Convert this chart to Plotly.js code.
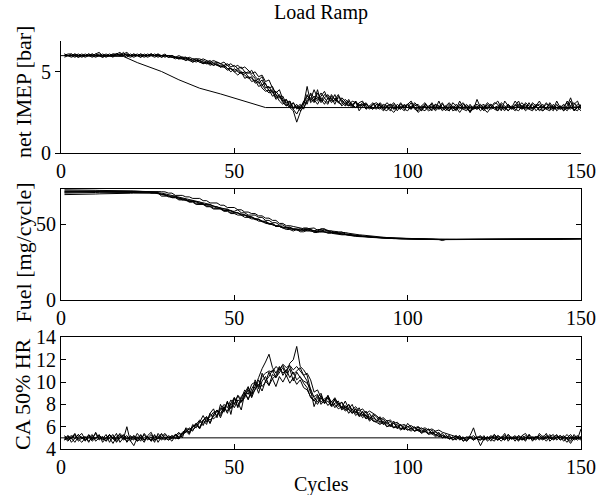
<!DOCTYPE html>
<html>
<head>
<meta charset="utf-8">
<script src="https://cdn.plot.ly/plotly-3.0.1.min.js"></script>
<style>html,body{margin:0;padding:0;background:#fff;}#chart{width:608px;height:495px;}</style>
</head>
<body>
<div id="chart"></div>
<script>
// cycle index 1..150
const cycles = Array.from({length: 150}, (_, i) => i + 1);
const xTicks = [0, 50, 100, 150];

// ---------- net IMEP [bar] ----------
const imepA = [6.0,6.1,6.1,6.0,5.9,6.0,6.1,6.0,6.0,6.1, 6.2,6.0,5.9,6.0,6.0,6.1,6.0,6.1,6.0,5.9, 6.0,6.0,6.1,6.0,5.9,6.0,6.0,6.1,5.9,6.0,
 5.9,6.0,5.9,5.8,5.9,5.9,5.8,5.7,5.8,5.8, 5.7,5.6,5.7,5.5,5.6,5.5,5.4,5.5,5.3,5.4,
 5.2,5.3,5.0,4.9,5.1,4.7,4.5,4.7,4.2,4.0, 4.1,3.6,3.4,3.5,3.0,2.8,3.1,2.7,2.9,3.0,
 3.5,3.3,3.9,3.4,3.2,3.6,3.5,3.1,3.3,3.2, 2.9,3.1,3.0,2.8,3.2,2.6,2.9,3.0,2.8,2.7,
 3.0,2.8,2.6,2.9,3.0,2.7,2.8,3.1,2.7,2.6, 2.9,2.8,2.5,2.7,3.0,2.8,2.9,2.6,2.8,3.1,
 2.7,2.6,2.9,2.8,2.5,2.8,3.0,2.7,2.8,2.9, 2.6,2.8,3.1,2.9,2.7,2.6,2.9,2.8,3.0,2.7,
 2.8,3.0,2.9,2.6,2.8,2.7,3.0,2.9,2.6,2.8, 2.7,2.9,2.6,2.8,3.0,2.7,3.2,2.6,2.8,2.9];
const imepB = [6.1,6.0,6.0,6.1,6.0,5.9,6.0,6.0,6.1,6.0, 6.0,6.1,6.0,6.0,5.9,6.1,6.2,6.0,6.1,6.0, 5.9,6.0,6.1,6.0,6.0,6.1,6.0,5.9,6.0,6.0,
 6.0,6.0,5.9,6.0,5.9,5.8,5.9,5.8,5.8,5.7, 5.8,5.7,5.6,5.7,5.6,5.5,5.6,5.4,5.5,5.3,
 5.4,5.2,5.3,5.1,4.9,5.0,4.7,4.8,4.4,4.5, 4.0,3.7,3.9,3.3,3.1,3.2,2.8,3.0,2.7,3.2,
 3.0,3.7,3.4,3.2,3.5,3.8,3.3,3.4,3.0,3.5, 3.3,3.0,2.9,3.2,3.1,2.9,3.0,2.7,2.9,3.1,
 2.8,2.7,3.0,2.9,2.7,2.5,2.8,3.0,2.9,2.8, 3.1,2.7,2.6,2.9,2.8,2.6,2.7,3.0,2.9,2.6,
 2.8,3.0,2.6,2.7,2.9,3.1,2.8,2.6,2.7,2.8, 3.0,2.7,2.5,2.8,3.1,3.0,2.7,2.8,2.6,2.9,
 2.7,2.6,2.9,3.0,2.7,3.1,2.9,2.7,2.6,2.8, 3.0,2.7,2.8,2.9,2.6,2.8,2.7,3.0,3.2,2.7];
const imepC = [6.0,6.0,5.9,6.0,6.1,6.0,6.0,6.1,6.0,5.9, 6.0,6.0,6.1,6.0,6.0,6.1,6.0,6.2,6.0,6.0, 6.1,6.0,6.0,5.9,6.0,6.1,6.0,6.0,6.0,5.9,
 6.0,5.9,5.9,5.9,5.8,5.8,5.7,5.8,5.7,5.6, 5.6,5.5,5.6,5.4,5.5,5.3,5.4,5.2,5.2,5.0,
 5.1,4.9,4.8,4.6,4.7,4.3,4.4,4.0,3.8,3.9, 3.5,3.6,3.2,3.0,3.3,2.8,2.6,1.9,2.5,3.0,
 4.1,3.1,3.3,3.0,3.4,3.2,3.0,3.6,3.3,3.1, 3.4,3.2,2.9,3.0,2.8,3.1,3.2,2.7,2.9,2.8,
 2.7,3.1,2.9,2.8,2.6,3.0,2.8,2.7,3.0,2.8, 2.7,3.0,2.8,2.6,2.9,2.7,2.8,3.0,2.7,2.8,
 2.9,2.7,2.8,2.6,3.0,2.7,2.6,2.9,2.8,2.7, 2.8,2.9,2.7,3.0,2.8,2.9,2.6,3.2,2.9,2.7,
 3.0,2.8,2.7,3.1,2.9,2.8,2.9,2.6,2.8,2.7, 2.6,3.0,2.8,2.7,2.9,3.1,2.8,2.7,2.6,3.0];
const imepD = [5.9,6.0,6.0,6.1,6.0,6.0,5.9,6.0,6.1,6.0, 6.0,5.9,6.0,6.1,6.0,6.0,6.1,6.0,5.9,6.1, 6.0,6.0,5.9,6.1,6.0,6.0,6.1,6.0,5.9,6.0,
 5.9,5.9,5.8,5.9,5.8,5.7,5.8,5.6,5.7,5.7, 5.5,5.6,5.4,5.5,5.4,5.3,5.3,5.1,5.2,5.0,
 4.8,5.0,4.6,4.7,4.4,4.5,4.1,4.2,3.9,3.7, 3.8,3.3,3.5,3.1,2.9,3.2,2.7,2.9,2.6,2.8,
 3.2,3.4,3.1,3.7,3.3,3.0,3.4,3.2,3.6,3.1, 3.0,3.3,3.1,2.9,2.8,3.0,2.9,3.1,2.8,3.0,
 3.1,2.9,2.7,2.8,3.0,2.9,2.6,2.9,2.8,3.0, 2.7,2.9,3.0,2.7,2.6,2.9,3.0,2.7,2.9,2.8,
 2.6,2.9,2.7,3.0,2.8,2.7,2.9,2.5,2.9,3.0, 2.8,2.6,2.9,2.7,2.8,2.6,3.0,2.7,2.9,2.8,
 2.6,2.9,3.1,2.8,2.7,2.6,2.9,3.0,2.8,3.1, 2.8,2.6,3.0,2.7,2.8,2.6,2.9,3.1,2.8,2.6];
const imepE = [6.1,6.0,6.0,5.9,6.0,6.1,6.0,6.0,5.9,6.0, 6.1,6.0,6.0,6.0,6.1,6.0,6.1,6.1,6.2,6.0, 6.0,6.1,6.0,6.0,6.1,6.0,5.9,6.0,6.0,6.1,
 5.9,6.0,5.9,5.8,5.8,5.9,5.7,5.6,5.7,5.6, 5.5,5.6,5.5,5.4,5.5,5.3,5.4,5.2,5.0,5.2,
 5.0,4.9,5.0,4.7,4.6,4.4,4.6,4.2,4.3,3.8, 3.9,3.4,3.6,3.2,2.9,3.1,2.7,2.4,2.8,3.1,
 3.6,3.2,3.5,3.3,3.7,3.4,3.1,3.5,3.3,3.6, 3.1,2.9,3.2,3.0,3.1,2.8,3.0,2.9,2.7,3.0,
 2.8,3.0,2.7,2.6,2.9,3.1,2.8,2.7,2.9,3.0, 3.2,2.8,2.7,2.9,3.1,2.8,2.6,2.9,2.7,3.0,
 2.8,2.6,3.1,2.9,2.7,3.0,2.8,2.5,2.8,2.7, 2.9,3.0,2.7,3.0,2.8,2.7,3.1,2.9,2.6,2.8,
 2.9,3.2,2.7,2.9,2.8,3.0,2.6,2.8,3.0,2.7, 3.1,2.8,2.7,2.9,2.7,3.2,2.9,2.6,2.9,2.8];
const imepF = [6.0,6.0,6.1,6.0,5.9,6.0,6.0,6.1,6.0,6.1, 6.0,5.9,6.0,6.0,6.1,6.1,6.0,6.0,6.1,6.0, 6.1,6.0,5.9,6.0,6.0,6.1,6.0,6.1,6.0,6.0,
 6.0,5.9,5.9,5.8,5.9,5.7,5.8,5.7,5.6,5.7, 5.6,5.5,5.5,5.6,5.4,5.4,5.3,5.4,5.2,5.1,
 5.2,5.0,4.9,5.0,4.8,4.6,4.3,4.5,4.0,4.1, 3.7,3.8,3.5,3.2,3.3,2.9,3.1,2.8,3.0,2.7,
 3.3,3.6,3.2,3.9,3.1,3.4,3.6,3.3,3.2,3.4, 3.2,3.0,3.3,2.9,3.2,2.9,3.1,3.0,2.8,2.7,
 3.0,3.0,2.8,3.1,2.9,2.7,3.0,2.8,2.6,3.0, 2.8,3.1,2.9,2.6,3.0,2.8,3.1,2.7,3.2,2.7,
 2.9,3.1,2.8,2.7,3.2,2.8,2.7,3.0,2.7,3.3, 2.8,2.7,3.0,2.8,3.0,3.2,2.8,2.6,3.0,2.8,
 3.2,2.9,2.8,2.7,3.1,2.7,2.9,3.2,2.8,3.0, 2.9,2.7,3.2,2.8,2.6,2.9,3.4,2.8,3.0,2.9];
// reference IMEP (breakpoints)
const imepRefX = [0, 18, 22, 29, 34, 40, 46, 52, 59, 150];
const imepRefY = [6.0, 5.95, 5.57, 5.02, 4.51, 3.99, 3.64, 3.27, 2.8, 2.8];

// ---------- Fuel [mg/cycle] ----------
const fuelA = [72.8,72.8,72.7,72.7,72.6,72.6,72.5,72.5,72.4,72.4, 72.3,72.3,72.2,72.2,72.1,72.1,72.0,72.0,71.9,71.9, 71.8,71.8,71.7,71.6,71.5,
 70.5,70.5,70.5,68.5,68.5, 68.5,67.5,67.5,66.0,66.0, 66.0,64.5,64.5,63.0,63.0, 63.0,61.5,61.5,60.0,60.0, 60.0,58.5,58.5,57.0,57.0,
 56.0,56.0,54.5,54.5,53.5, 53.5,52.0,52.0,50.5,50.0, 50.0,48.5,48.5,47.5,47.5, 48.0,46.5,46.5,47.0,46.0, 46.5,46.5,45.5,45.0,45.0,
 46.0,46.0,44.5,44.0,44.0, 43.5,43.5,43.0,42.8,42.5, 42.3,42.0,41.8,41.7,41.5, 41.3,41.2,41.0,41.0,40.9, 40.8,40.7,40.6,40.5,40.5,
 40.4,40.4,40.3,40.3,40.2,40.2,40.2,40.1,40.1,40.0, 40.0,40.0,39.9,39.9,39.9,39.9,40.0,40.0,39.9,39.9, 39.8,39.8,39.8,39.9,39.9,39.8,39.8,39.8,39.7,39.7,
 39.7,39.8,39.8,39.8,39.7,39.7,39.8,39.8,39.9,39.9, 40.0,40.0,40.1,40.1,40.2,40.2,40.3,40.3,40.4,40.4];
const fuelB = [71.5,71.5,71.6,71.6,71.6,71.7,71.7,71.7,71.8,71.8, 71.8,71.8,71.9,71.9,71.9,71.9,72.0,72.0,72.0,72.0, 71.9,71.9,71.8,71.8,71.7,71.7,71.6,71.5,71.4,71.3,
 70.5,70.5,69.0,69.0,69.0, 68.0,68.0,67.0,67.0,67.0, 65.5,65.5,64.0,64.0,64.0, 62.5,62.5,61.0,61.0,61.0, 59.5,59.5,58.0,58.0,57.0,
 57.0,55.5,55.5,54.0,54.0, 52.5,52.5,50.5,50.5,49.0, 49.0,48.5,48.0,48.0,47.0, 47.0,47.5,47.5,46.0,46.0, 46.5,45.5,45.5,45.0,45.0,
 44.5,44.5,44.0,43.5,43.5, 43.0,42.8,42.5,42.5,42.2, 41.8,41.6,41.4,41.2,41.0, 40.9,40.8,40.7,40.6,40.5,
 40.4,40.4,40.3,40.2,40.2,40.1,40.0,40.0,39.9,39.2, 39.9,39.9,39.9,39.9,40.0,40.0,40.0,40.0,40.1,40.1, 40.1,40.1,40.0,40.0,40.0,39.9,39.9,39.9,39.8,39.8,
 39.8,39.8,39.9,39.9,39.9,40.0,40.0,40.0,40.1,40.1, 40.1,40.2,40.2,40.2,40.3,40.3,40.3,40.4,40.4,40.4];
const fuelC = [70.5,70.5,70.6,70.6,70.7,70.7,70.8,70.8,70.9,70.9, 71.0,71.0,71.0,71.1,71.1,71.1,71.2,71.2,71.2,71.2, 71.2,71.1,71.1,71.0,71.0,70.9,70.9,70.8,
 69.5,69.5,68.5,68.5,68.5,67.0,67.0, 65.5,65.5,65.5,64.5,64.5,63.0,63.0,63.0, 61.5,61.5,60.0,60.0,60.0,58.5,58.5, 59.5,57.5,57.5,56.0,56.0,
 56.0,54.5,54.5,52.5,52.5, 51.0,51.0,49.5,49.5,48.0, 48.0,47.0,47.0,46.0,47.5, 47.5,46.5,45.5,45.5,47.0, 47.0,45.5,45.5,44.5,44.5,
 45.0,43.5,43.5,43.0,42.5, 42.5,42.0,41.8,41.6,41.4, 41.2,41.0,40.9,40.8,40.7, 40.6,40.5,40.4,40.4,40.3,
 40.3,40.2,40.2,40.1,40.1,40.0,40.0,40.0,39.9,39.9, 39.9,39.8,39.8,39.9,39.9,39.9,40.0,40.0,40.0,40.0, 40.1,40.1,40.1,40.0,40.0,40.0,40.0,39.9,39.9,39.9,
 39.9,39.9,40.0,40.0,40.0,40.0,40.1,40.1,40.1,40.1, 40.2,40.2,40.2,40.3,40.3,40.3,40.4,40.4,40.5,40.5];
const fuelD = [69.5,69.5,69.6,69.6,69.7,69.7,69.8,69.8,69.9,69.9, 70.0,70.0,70.1,70.1,70.2,70.2,70.3,70.3,70.4,70.4, 70.5,70.5,70.6,70.6,70.6,70.5,70.5,70.4,
 69.5,69.5,68.0,68.0,68.0,66.5,66.5, 66.5,65.0,65.0,63.5,63.5,63.5,62.0,62.0, 60.5,60.5,60.5,59.0,59.0,57.5,57.5, 57.5,56.0,56.0,54.5,54.5,
 53.0,53.0,51.5,51.5,50.0, 50.0,48.5,48.5,47.5,46.5, 46.5,45.5,46.5,45.0,45.0, 46.0,46.0,44.5,44.5,45.5, 45.0,44.0,44.0,43.5,43.5,
 43.0,43.0,42.5,42.5,42.0, 41.8,41.8,41.5,41.5,41.2, 41.0,40.9,40.8,40.7,40.6, 40.5,40.5,40.4,40.4,40.3,
 40.3,40.2,40.2,40.1,40.1,40.0,40.0,39.9,39.9,39.9, 39.9,40.0,40.0,40.0,40.1,40.1,40.1,40.0,40.0,40.0, 39.9,39.9,39.9,39.8,39.8,39.8,39.8,39.9,39.9,39.9,
 40.0,40.0,40.0,40.0,40.1,40.1,40.1,40.1,40.2,40.2, 40.2,40.2,40.3,40.3,40.3,40.4,40.4,40.4,40.5,40.5];
const fuelE = [72.0,72.0,72.1,72.1,72.1,72.2,72.2,72.2,72.2,72.2, 72.2,72.1,72.1,72.1,72.0,72.0,72.0,71.9,71.9,71.8, 71.8,71.7,71.7,71.6,71.5,71.3,71.0,
 70.0,70.0,69.0,69.0,67.5,67.5,67.5, 66.0,66.0,65.0,65.0,65.0,63.5,63.5, 62.0,62.0,62.0,60.5,60.5,59.0,59.0, 59.0,57.5,57.5,56.0,56.0,55.0,55.0,
 53.5,53.5,52.0,52.0,50.5, 50.5,49.0,49.0,48.0,48.0, 47.0,47.0,46.0,46.0,46.5, 46.5,45.5,45.5,46.5,46.5, 45.0,45.0,44.5,44.5,44.0,
 43.5,43.5,43.0,42.8,42.5, 42.3,42.0,41.8,41.6,41.4, 41.2,41.0,40.9,40.8,40.7, 40.6,40.5,40.4,40.3,40.3,
 40.2,40.1,40.1,40.0,40.0,39.9,39.9,39.8,39.8,39.8, 39.8,39.8,39.9,39.9,40.0,40.0,40.1,40.1,40.1,40.0, 40.0,40.0,39.9,39.9,39.9,39.8,39.8,39.8,39.8,39.9,
 39.9,39.9,40.0,40.0,40.0,40.1,40.1,40.1,40.2,40.2, 40.2,40.2,40.3,40.3,40.3,40.3,40.4,40.4,40.4,40.4];
const fuelF = [71.0,71.0,71.1,71.1,71.2,71.2,71.3,71.3,71.4,71.4, 71.5,71.5,71.5,71.6,71.6,71.6,71.6,71.5,71.5,71.5, 71.4,71.4,71.3,71.3,71.2,71.1,71.0,70.8,70.5,70.0,
 69.5,69.0,68.5,68.0,67.5, 67.0,66.5,66.0,65.5,65.0, 64.0,63.5,63.0,62.0,61.5, 61.0,60.0,59.5,59.0,58.0, 57.5,57.0,56.0,55.5,54.5,
 54.0,53.0,52.0,51.5,50.5, 49.5,49.0,48.5,48.0,47.5, 47.0,46.5,46.5,46.0,46.0, 45.5,45.5,45.5,45.0,45.0, 45.0,44.5,44.5,44.0,44.0,
 43.5,43.0,42.8,42.5,42.2, 42.0,41.8,41.6,41.4,41.2, 41.0,40.9,40.8,40.7,40.6, 40.5,40.5,40.4,40.4,40.3,
 40.3,40.2,40.2,40.2,40.1,40.1,40.1,40.0,40.0,40.0, 40.0,40.0,40.0,40.0,40.0,40.0,40.0,40.0,40.0,40.0, 40.0,39.9,39.9,39.9,39.9,39.9,39.9,39.9,39.9,39.9,
 39.9,39.9,39.9,39.9,39.9,39.9,40.0,40.0,40.0,40.0, 40.0,40.0,40.1,40.1,40.1,40.2,40.2,40.2,40.3,40.3];

// ---------- CA 50% HR ----------
const caA = [5.0,4.7,5.1,5.3,4.9,4.6,5.0,5.2,4.8,5.5, 4.9,5.1,4.7,5.0,4.5,5.1,5.3,4.8,5.0,4.9, 5.2,4.7,4.9,5.3,4.8,5.1,4.6,5.4,5.0,4.8, 5.1,4.9,5.3,5.0,5.2,
 5.6,5.3,6.0,6.2,5.8, 6.5,6.9,6.3,7.1,7.5, 6.8,7.6,8.2,7.7,8.0, 8.8,8.2,8.6,9.5,8.9, 9.3,10.2,9.6,10.0,10.9, 10.3,10.6,11.3,10.8,11.1, 11.4,10.7,11.0,11.3,10.6,
 10.1,9.0,8.7,8.9,8.2,8.5,8.7,7.9,8.1,8.3, 7.6,7.9,7.5,7.2,7.6,7.0,7.3,6.9,6.6,7.0, 6.5,6.7,6.2,6.4,6.1,6.3,5.9,6.2,5.8,6.0,
 5.8,6.0,5.6,5.7,5.5,5.8,5.3,5.5,5.4,5.2, 5.1,4.9,5.0,5.2,4.8,5.0,4.7,5.1,4.9,5.0, 5.2,4.8,5.1,4.9,4.7,5.2,5.0,4.8,5.3,4.9,
 5.0,4.7,5.2,5.4,4.9,5.0,5.1,4.8,5.2,4.9, 5.3,4.8,5.0,5.2,4.9,4.6,5.1,5.0,4.8,5.1];
const caB = [4.8,5.2,4.9,5.4,4.7,5.0,5.1,4.6,5.2,4.9, 5.3,4.6,5.0,5.2,4.9,4.7,5.0,5.3,4.6,5.0, 4.8,5.4,5.0,4.8,5.1,4.7,5.2,4.9,5.3,5.0, 4.8,5.2,5.0,4.9,5.4,
 5.5,5.8,5.6,6.3,5.9, 6.6,6.2,7.2,6.7,7.0, 7.7,7.3,8.2,7.6,8.6, 7.8,8.3,9.0,8.5,9.1, 9.6,10.4,11.2,11.8,12.5, 11.3,10.8,11.4,10.6,11.1, 10.4,10.9,10.2,10.5,9.9,
 9.5,8.6,8.3,8.8,8.0,8.4,7.9,8.3,7.7,8.1, 7.5,7.8,7.2,7.6,7.0,7.3,6.8,7.1,6.5,6.8, 6.6,6.3,6.5,6.0,6.2,5.9,6.1,5.8,5.9,5.7,
 5.9,5.6,5.8,5.5,5.6,5.4,5.5,5.3,5.1,5.2, 5.0,5.2,4.8,5.0,4.9,5.1,4.7,5.0,5.2,4.9, 4.8,5.0,4.9,5.2,5.0,4.8,5.1,4.9,5.3,5.0,
 4.9,5.2,4.8,5.0,5.1,4.8,5.0,5.2,4.9,5.1, 4.9,5.1,5.2,4.8,5.0,5.3,4.9,5.1,5.0,4.8];
const caC = [5.2,4.9,5.0,4.6,5.1,5.4,4.8,5.0,5.3,4.7, 5.0,4.9,5.3,4.6,5.1,4.9,5.4,5.0,4.7,5.2, 4.9,5.1,4.7,5.4,5.0,4.8,5.3,4.6,5.1,5.4, 5.0,5.2,4.9,5.4,5.3,
 5.8,5.5,6.0,6.3,5.9, 6.6,6.9,6.3,7.1,7.5, 7.0,7.8,7.2,8.1,8.6, 7.7,8.7,9.1,8.4,9.4, 9.9,9.0,10.1,10.5,9.7, 10.7,10.4,11.1,11.5,10.8, 11.7,12.0,13.2,11.4,11.1,
 10.6,9.3,7.8,8.6,9.0,8.1,8.8,7.9,8.4,7.8, 8.2,7.5,8.0,7.3,7.6,7.0,7.4,6.7,7.2,6.6, 6.4,6.9,6.2,6.6,6.0,6.5,5.8,6.2,5.7,6.3,
 5.9,5.6,6.0,5.5,5.8,5.4,5.7,5.2,5.5,5.0, 5.3,4.9,5.1,4.8,5.2,4.7,5.0,5.1,4.8,5.0, 4.3,4.9,5.1,4.7,5.3,5.0,4.7,5.1,4.9,5.0,
 5.2,4.8,5.0,4.7,5.3,5.0,4.8,5.4,5.0,4.7, 5.1,5.3,4.8,5.1,4.7,5.0,5.3,4.9,5.1,5.0];
const caD = [4.9,5.2,4.6,5.0,5.3,4.9,5.1,4.7,5.0,5.4, 4.8,5.1,4.9,5.0,5.3,4.6,5.0,5.2,4.9,5.1, 5.0,4.7,5.3,4.8,5.1,4.7,5.0,5.2,4.8,5.1, 4.8,5.0,5.3,5.1,5.4,
 5.5,5.9,5.7,6.0,6.5, 6.1,6.8,6.6,6.9,7.4, 7.2,7.7,7.4,8.1,7.7, 8.4,8.2,8.8,9.3,8.6, 9.4,9.8,9.2,10.1,9.7, 10.3,9.6,10.5,10.0,10.6, 9.9,10.4,9.8,10.2,9.5,
 9.3,8.7,8.4,8.0,8.6,8.1,8.3,7.8,8.0,7.6, 7.8,7.4,7.6,7.2,7.4,6.9,7.1,6.7,6.9,6.5, 6.4,6.2,6.4,6.0,6.1,5.9,6.0,5.7,5.9,5.7,
 5.8,5.6,5.7,5.4,5.6,5.3,5.4,5.1,5.3,5.0, 5.1,4.9,5.0,5.2,4.9,5.0,4.8,5.1,4.9,5.1, 5.0,4.8,5.0,5.1,4.9,5.2,5.0,4.8,5.1,4.9,
 5.1,5.0,4.8,5.2,5.0,4.9,5.1,5.0,4.8,5.2, 5.0,4.9,5.1,5.0,5.2,4.9,4.5,5.0,5.2,4.9];
const caE = [5.1,4.8,5.0,5.2,4.9,5.1,4.7,5.3,4.9,5.0, 5.2,4.8,5.0,5.3,4.9,5.4,4.6,5.0,5.2,4.8, 4.3,5.0,5.2,4.8,5.0,5.3,4.8,5.0,5.4,4.9, 5.2,5.0,5.3,4.9,5.5,
 5.7,5.4,6.2,5.9,6.4, 7.0,6.4,7.2,7.6,6.8, 8.0,7.4,8.3,7.1,8.6, 8.2,7.5,9.0,9.6,8.7, 10.2,9.4,10.8,10.1,10.5, 11.1,10.4,10.9,11.3,10.5, 11.2,10.1,10.9,10.4,10.1,
 9.9,9.4,8.6,8.2,8.8,8.1,8.6,7.9,8.5,8.1, 7.7,8.3,7.6,8.0,7.2,7.7,7.0,7.4,6.7,7.1, 6.9,6.4,6.7,6.2,6.5,5.9,6.3,5.8,6.1,5.8,
 5.6,5.9,5.7,5.9,5.6,5.8,5.4,5.6,5.2,5.4, 5.0,5.2,4.8,5.0,5.2,4.7,4.9,5.2,5.9,4.9, 4.8,5.2,4.7,5.0,5.3,4.8,5.0,5.4,4.7,5.1,
 4.7,5.2,5.0,4.8,5.3,4.7,5.1,4.9,5.0,5.4, 4.7,5.0,5.3,4.8,5.1,5.0,4.7,5.3,4.9,5.8];
const caF = [4.8,5.0,5.2,4.9,5.3,5.0,4.8,5.1,4.7,5.0, 5.2,5.0,4.7,5.3,5.0,4.8,5.2,4.9,6.0,4.7, 5.2,4.9,5.0,4.6,5.2,5.5,4.8,5.0,4.9,5.3, 5.0,4.7,5.2,5.5,5.0,
 5.9,5.7,6.0,6.2,6.6, 6.3,6.6,6.9,7.3,7.0, 7.5,8.0,7.7,8.4,8.0, 8.8,8.5,9.3,8.9,9.8, 10.0,9.6,10.5,10.8,11.0, 10.9,11.4,11.1,11.6,11.3, 11.5,11.1,11.4,11.0,10.6,
 10.8,10.2,9.1,9.3,8.6,8.3,8.8,8.2,8.6,8.0, 8.2,7.7,8.0,7.5,7.8,7.4,7.6,7.2,7.4,7.2, 7.0,6.7,6.8,6.5,6.6,6.3,6.4,6.1,6.2,6.0,
 6.1,5.9,6.0,5.8,5.9,5.7,5.8,5.6,5.7,5.5, 5.4,5.3,5.2,5.1,5.0,4.9,5.1,5.0,4.8,5.0, 5.1,5.0,4.9,5.0,5.1,4.8,5.0,5.2,5.0,4.9,
 5.0,4.8,5.2,5.0,4.9,5.1,5.0,5.2,4.9,5.0, 5.1,4.9,5.0,5.2,5.0,4.9,5.1,4.8,5.0,5.1];
const caRefX = [0, 150];
const caRefY = [5, 5];

const imepTrials = [imepA, imepB, imepC, imepD, imepE, imepF];
const fuelTrials = [fuelA, fuelB, fuelC, fuelD, fuelE, fuelF];
const caTrials = [caA, caB, caC, caD, caE, caF];

const lineStyle = {color: '#000', width: 1};
const traces = [];
function addTrials(list, xa, ya) {
  list.forEach(arr => traces.push({x: cycles, y: arr, xaxis: xa, yaxis: ya, type: 'scatter', mode: 'lines', line: lineStyle, showlegend: false, hoverinfo: 'skip'}));
}
addTrials(imepTrials, 'x', 'y');
traces.push({x: imepRefX, y: imepRefY, xaxis: 'x', yaxis: 'y', mode: 'lines', line: {color: '#000', width: 1}, showlegend: false});
addTrials(fuelTrials, 'x2', 'y2');
addTrials(caTrials, 'x3', 'y3');
traces.push({x: caRefX, y: caRefY, xaxis: 'x3', yaxis: 'y3', mode: 'lines', line: {color: '#000', width: 1}, showlegend: false});

const FONT = 'Liberation Serif, Times New Roman, DejaVu Serif, serif';
const tickFont = {family: FONT, size: 20, color: '#000'};
const yLabelFont = {family: FONT, size: 22, color: '#000'};
function xAxis(anchor, boxed) {
  return {anchor: anchor, domain: [0, 1], range: [0, 150], tickvals: xTicks, ticks: 'inside', ticklen: 5, tickcolor: '#000',
    showline: true, linecolor: '#000', linewidth: 1, mirror: boxed ? 'ticks' : false, showgrid: false, zeroline: false, tickfont: tickFont};
}
function yAxis(anchor, domain, range, tickvals, boxed, tickdir) {
  return {anchor: anchor, domain: domain, range: range, tickvals: tickvals, ticks: tickdir || 'inside', ticklen: 5, tickcolor: '#000',
    showline: true, linecolor: '#000', linewidth: 1, mirror: boxed ? 'ticks' : false, showgrid: false, zeroline: false, tickfont: tickFont};
}

const annotations = [
  {text: 'net IMEP [bar]', xref: 'paper', yref: 'paper', x: -0.073, y: 0.875, textangle: -90, showarrow: false, xanchor: 'center', yanchor: 'middle', font: yLabelFont},
  {text: 'Fuel [mg/cycle]', xref: 'paper', yref: 'paper', x: -0.073, y: 0.482, textangle: -90, showarrow: false, xanchor: 'center', yanchor: 'middle', font: yLabelFont},
  {text: 'CA 50% HR', xref: 'paper', yref: 'paper', x: -0.073, y: 0.135, textangle: -90, showarrow: false, xanchor: 'center', yanchor: 'middle', font: yLabelFont},
  {text: 'Cycles', xref: 'paper', yref: 'paper', x: 0.5, y: -0.086, showarrow: false, xanchor: 'center', yanchor: 'middle', font: {family: FONT, size: 20, color: '#000'}}
];

const layout = {
  width: 608, height: 495,
  margin: {l: 61, r: 27, t: 41, b: 46},
  paper_bgcolor: '#fff', plot_bgcolor: '#fff',
  font: {family: FONT, size: 20, color: '#000'},
  title: {text: 'Load Ramp', font: {family: FONT, size: 20, color: '#000'}, x: 0.528, xanchor: 'center', y: 0.975, yanchor: 'middle', yref: 'container'},
  xaxis: xAxis('y', false),
  yaxis: yAxis('x', [0.7255, 1], [0, 6.9], [0, 5], false, 'outside'),
  xaxis2: xAxis('y2', true),
  yaxis2: yAxis('x2', [0.3652, 0.6365], [0, 73], [0, 50], true),
  xaxis3: xAxis('y3', true),
  yaxis3: yAxis('x3', [0, 0.2733], [4, 14], [4, 6, 8, 10, 12, 14], true),
  annotations: annotations
};

Plotly.newPlot('chart', traces, layout, {staticPlot: true, displayModeBar: false});
</script>
</body>
</html>
